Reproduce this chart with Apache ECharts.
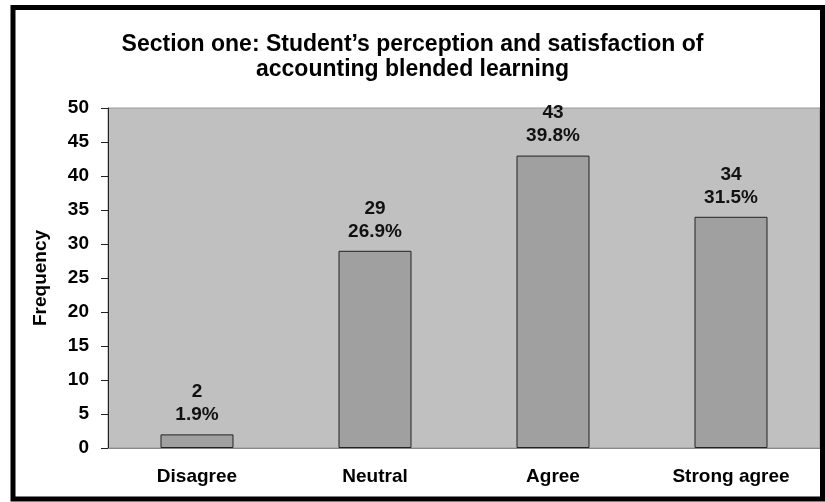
<!DOCTYPE html>
<html>
<head>
<meta charset="utf-8">
<script src="https://cdn.jsdelivr.net/npm/echarts@6/dist/echarts.min.js"></script>
<style>
  html, body { margin: 0; padding: 0; background: #fff; }
  #chart { width: 825px; height: 502px; }
</style>
</head>
<body>
<div id="chart"></div>
<script>
const categories = ['Disagree', 'Neutral', 'Agree', 'Strong agree'];
const frequency = [2, 29, 43, 34];
const percents = ['1.9%', '26.9%', '39.8%', '31.5%'];
const yTicks = [0, 5, 10, 15, 20, 25, 30, 35, 40, 45, 50];

const font = '"Liberation Sans", Arial, sans-serif';
const chart = echarts.init(document.getElementById('chart'));

chart.setOption({
  animation: false,
  title: {
    text: 'Section one: Student\u2019s perception and satisfaction of\naccounting blended learning',
    left: 'center',
    top: 27,
    textStyle: { fontFamily: font, fontWeight: 'bold', fontSize: 23, color: '#000', lineHeight: 25 }
  },
  graphic: [{
    type: 'rect',
    shape: { x: 13, y: 7.5, width: 809.5, height: 491.5 },
    style: { fill: 'none', stroke: '#000', lineWidth: 5 },
    z: 100
  }],
  grid: {
    left: 108, right: 5, top: 108, bottom: 54,
    show: true, backgroundColor: '#c0c0c0', borderColor: '#999', borderWidth: 1
  },
  xAxis: {
    type: 'category',
    data: categories,
    axisLine: { lineStyle: { color: '#888', width: 1 } },
    axisTick: { show: false },
    axisLabel: { fontFamily: font, fontWeight: 'bold', fontSize: 19, color: '#000', margin: 19 }
  },
  yAxis: {
    type: 'value',
    min: yTicks[0],
    max: yTicks[yTicks.length - 1],
    interval: 5,
    name: 'Frequency',
    nameLocation: 'middle',
    nameGap: 58,
    nameTextStyle: { fontFamily: font, fontWeight: 'bold', fontSize: 19, color: '#000' },
    axisLine: { show: true, lineStyle: { color: '#222', width: 1 } },
    axisTick: { show: true, length: 7, lineStyle: { color: '#222' } },
    splitLine: { show: false },
    axisLabel: { fontFamily: font, fontWeight: 'bold', fontSize: 19, color: '#000', margin: 19 }
  },
  series: [{
    type: 'bar',
    data: frequency,
    barWidth: '41%',
    itemStyle: { color: '#a0a0a0', borderColor: '#222', borderWidth: 1 },
    label: {
      show: true,
      position: 'top',
      distance: 8,
      formatter: p => p.value + '\n' + percents[p.dataIndex],
      fontFamily: font,
      fontWeight: 'bold',
      fontSize: 19,
      lineHeight: 23,
      color: '#111'
    }
  }]
});
</script>
</body>
</html>
